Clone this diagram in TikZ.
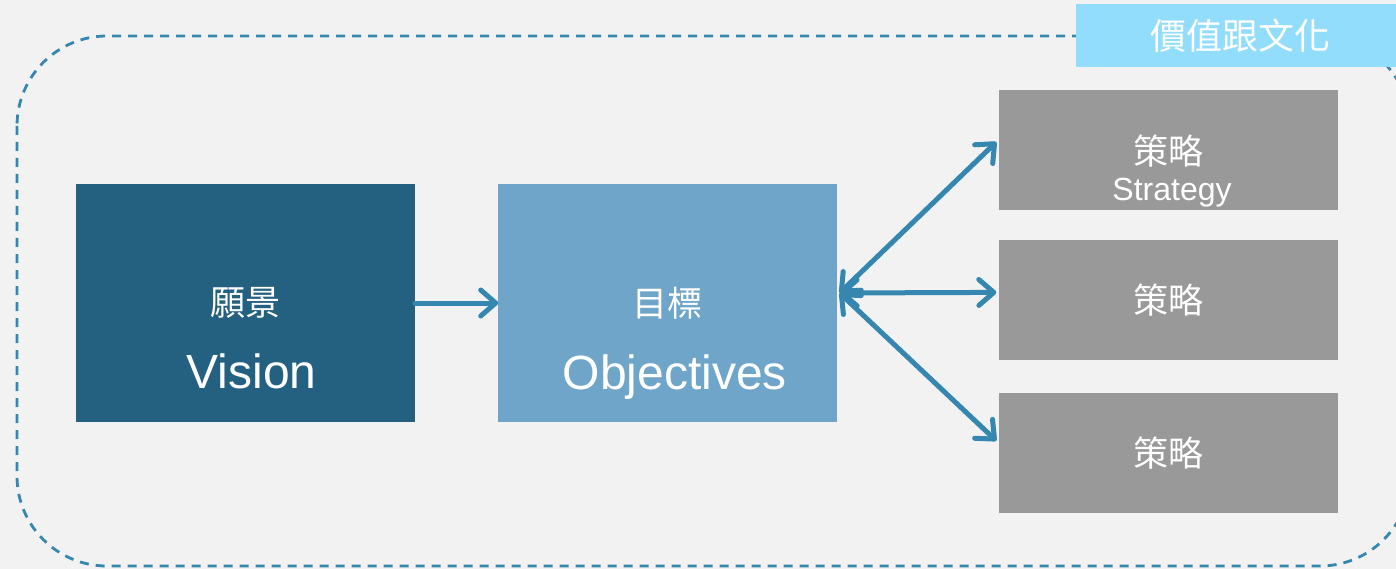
\documentclass[tikz,border=0pt]{standalone}
\usepackage{fontspec}
\setmainfont{Liberation Sans}
\newfontfamily\zhfont{Noto Sans CJK TC}
\usetikzlibrary{arrows.meta,positioning}
\definecolor{paper}{HTML}{F2F2F2}
\definecolor{visionblue}{HTML}{246180}
\definecolor{goalblue}{HTML}{70A5CA}
\definecolor{stratgray}{HTML}{999999}
\definecolor{linkblue}{HTML}{3587B0}
\definecolor{tagblue}{HTML}{92DDFB}
\tikzset{
  block/.style={
    inner sep = 0pt,
    minimum width = 339pt,
    draw = none
  },
  visionbox/.style={block, fill = visionblue, minimum height = 238pt},
  goalbox/.style={block, fill = goalblue, minimum height = 238pt},
  stratbox/.style={block, fill = stratgray, minimum height = 120pt},
  zh/.style={
    font = \zhfont\fontsize{35}{40}\selectfont,
    text = white,
    inner sep = 0pt
  },
  en/.style={
    font = \fontsize{48}{56}\selectfont,
    text = white,
    inner sep = 0pt,
    anchor = base
  },
  small/.style={
    font = \fontsize{32}{38}\selectfont,
    text = white,
    inner sep = 0pt,
    anchor = base
  },
  link/.style={
    line width = 5pt,
    draw = linkblue,
    line cap = round,
    -{Straight Barb[round, length=15pt, width=26pt]}
  },
  twoway/.style={
    link,
    {Straight Barb[round, length=15pt, width=26pt]}-{Straight Barb[round, length=15pt, width=26pt]}
  },
  frame/.style={
    draw = linkblue,
    line width = 2.8pt,
    dash pattern = on 9pt off 7pt,
    rounded corners = 90pt
  }
}
\begin{document}
\begin{tikzpicture}[x=1pt, y=-1pt]
    \useasboundingbox (0,0) rectangle (1396,569);
    \fill[paper] (0,0) rectangle (1396,569);
    % dashed frame round everything
    \draw[frame] (17,36) rectangle (1410,566);
    \node[fill = tagblue, minimum width = 328pt, minimum height = 63pt, inner sep = 0pt] (tag) at (1240,35.5) {};
    \node[zh, font = \zhfont\fontsize{36}{40}\selectfont] at (tag.center) {價值跟文化};
    % main blocks
    \node[visionbox] (vis) at (245.5,303) {};
    \node[goalbox, right = 83pt of vis] (obj) {};
    \node[stratbox] (s1) at (1168,150) {};
    \node[stratbox, below = 30pt of s1] (s2) {};
    \node[stratbox, below = 32pt of s2] (s3) {};
    % texts
    \node[zh] at (vis.center) {願景};
    \node[en] at ([shift={(6pt,-85pt)}]vis.center) {Vision};
    \node[zh] at (obj.center) {目標};
    \node[en] at ([shift={(7pt,-86pt)}]obj.center) {Objectives};
    \node[zh] at ([yshift=-1pt]s1.center) {策略};
    \node[small] at ([shift={(4pt,-51pt)}]s1.center) {Strategy};
    \node[zh] at (s2.center) {策略};
    \node[zh] at (s3.center) {策略};
    % links
    \coordinate (hub) at ([shift={(2pt,10pt)}]obj.east);
    \draw[link] (vis) -- (obj);
    \draw[twoway] (hub) -- ([shift={(-2pt,8pt)}]s1.west);
    \draw[twoway] (hub) -- ([shift={(-2pt,8pt)}]s2.west);
    \draw[twoway] (hub) -- ([shift={(-2pt,12pt)}]s3.west);
\end{tikzpicture}
\end{document}
